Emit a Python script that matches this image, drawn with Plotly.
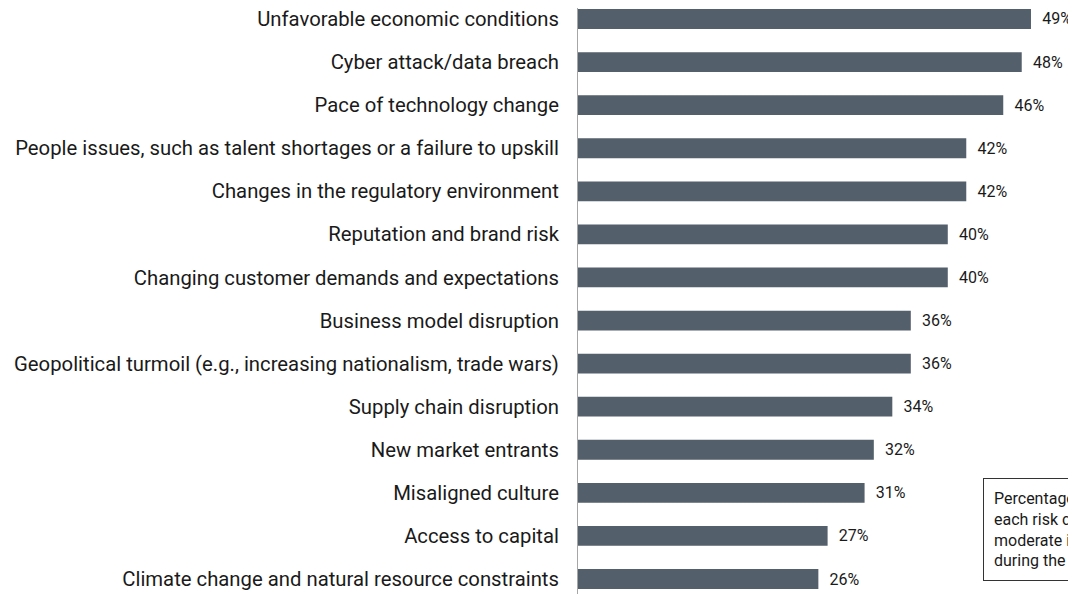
import plotly.graph_objects as go

categories = [
    "Unfavorable economic conditions",
    "Cyber attack/data breach",
    "Pace of technology change",
    "People issues, such as talent shortages or a failure to upskill",
    "Changes in the regulatory environment",
    "Reputation and brand risk",
    "Changing customer demands and expectations",
    "Business model disruption",
    "Geopolitical turmoil (e.g., increasing nationalism, trade wars)",
    "Supply chain disruption",
    "New market entrants",
    "Misaligned culture",
    "Access to capital",
    "Climate change and natural resource constraints",
]
values = [49, 48, 46, 42, 42, 40, 40, 36, 36, 34, 32, 31, 27, 26]

note_text = ("Percentage of respondents who say<br>each risk could have a high or<br>"
             "moderate impact on their business<br>during the next three years")

FONT = "Roboto"
BAR = "#535f6b"

# page body has an 8px margin, so the figure is drawn 8px in from the window edge
W, H = 1068, 586
L = 570

fig = go.Figure()
fig.add_trace(go.Bar(
    x=values, y=categories, orientation="h",
    marker=dict(color=BAR, line=dict(width=0)),
    width=0.46,
    text=[f"\u2002{v}%" for v in values],
    textposition="outside",
    cliponaxis=False,
    textfont=dict(family=FONT, size=16, color="#1a1a1a"),
    hoverinfo="skip",
))

fig.update_layout(
    width=W, height=H,
    margin=dict(l=L, r=0, t=0, b=0),
    paper_bgcolor="white", plot_bgcolor="white",
    showlegend=False,
    xaxis=dict(range=[0, 53.87], visible=False, fixedrange=True),
    yaxis=dict(
        categoryorder="array", categoryarray=categories,
        range=[13.348, -0.255],
        showline=True, linecolor="#a6a6a6", linewidth=1,
        showgrid=False, ticks="", ticklabelstandoff=14,
        tickfont=dict(family=FONT, size=20.3, color="#1a1a1a"),
        automargin=False, fixedrange=True,
    ),
    annotations=[dict(
        xref="paper", yref="paper", x=(975 - L) / (W - L), y=1 - 470 / H,
        xanchor="left", yanchor="top", align="left",
        text=note_text, showarrow=False,
        font=dict(family=FONT, size=16, color="#1a1a1a"),
        bordercolor="#333333", borderwidth=1, borderpad=10,
        bgcolor="white",
    )],
)

fig.write_html("out.html")
